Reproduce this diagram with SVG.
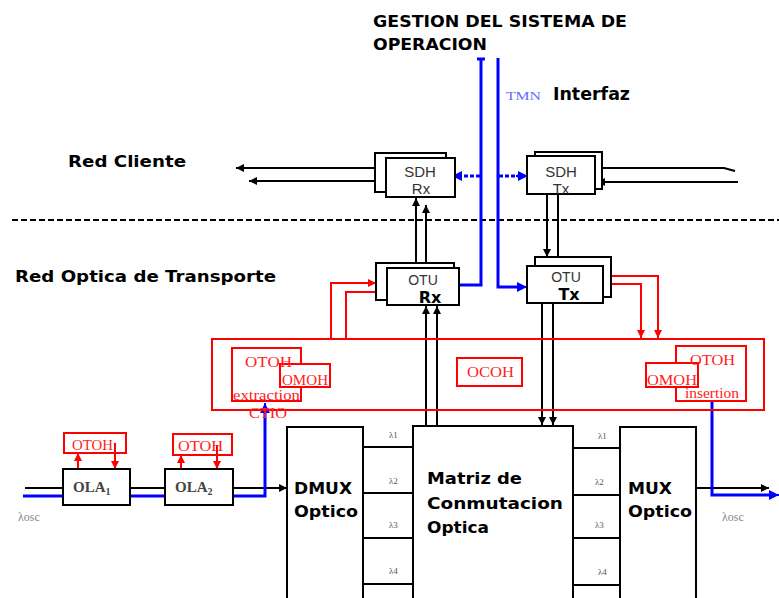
<svg xmlns="http://www.w3.org/2000/svg" width="779" height="598" viewBox="0 0 779 598">
<defs>
<marker id="ak" viewBox="0 0 10 10" refX="10" refY="5" markerWidth="9" markerHeight="8" markerUnits="userSpaceOnUse" orient="auto"><path d="M0,0 L10,5 L0,10 z" fill="#000"/></marker>
<marker id="ab" viewBox="0 0 10 10" refX="10" refY="5" markerWidth="11" markerHeight="10" markerUnits="userSpaceOnUse" orient="auto"><path d="M0,0 L10,5 L0,10 z" fill="#0000ff"/></marker>
<marker id="ar" viewBox="0 0 10 10" refX="10" refY="5" markerWidth="8" markerHeight="8" markerUnits="userSpaceOnUse" orient="auto"><path d="M0,0 L10,5 L0,10 z" fill="#ff0000"/></marker>
<style>
.bx{fill:#fff;stroke:#000;stroke-width:2}
.rb{fill:none;stroke:#ff0000;stroke-width:2}
.rbf{fill:#fff;stroke:#ff0000;stroke-width:2}
.k{fill:none;stroke:#000;stroke-width:2}
.b{fill:none;stroke:#0000ff;stroke-width:3}
.bd{fill:none;stroke:#0000ff;stroke-width:3;stroke-dasharray:4,2}
.r{fill:none;stroke:#ff0000;stroke-width:2}
.h{font-family:"DejaVu Sans","Liberation Sans",sans-serif;font-weight:bold;fill:#000}
.g{font-family:"Liberation Sans",Arial,sans-serif;fill:#333}
.s{font-family:"Liberation Serif","Times New Roman",serif}
.rt{font-family:"Liberation Serif","Times New Roman",serif;fill:#ff2020;font-size:14px}
.lam{font-family:"Liberation Serif","Times New Roman",serif;fill:#555;font-size:9px}
</style>
</defs>
<rect width="779" height="598" fill="#fff"/>

<g id="labels">
<text class="h" x="373" y="27" font-size="15" textLength="254" lengthAdjust="spacingAndGlyphs">GESTION DEL SISTEMA DE</text>
<text class="h" x="373" y="50" font-size="15" textLength="114" lengthAdjust="spacingAndGlyphs">OPERACION</text>
<text class="s" x="506" y="100" font-size="12" fill="#6a6aff" textLength="35" lengthAdjust="spacingAndGlyphs">TMN</text>
<text class="h" x="553" y="100" font-size="17" textLength="77" lengthAdjust="spacingAndGlyphs">Interfaz</text>
<text class="h" x="68" y="167" font-size="15" textLength="118" lengthAdjust="spacingAndGlyphs">Red Cliente</text>
<text class="h" x="15" y="282" font-size="15" textLength="261" lengthAdjust="spacingAndGlyphs">Red Optica de Transporte</text>
<text class="s" x="18" y="521" font-size="12" fill="#888">λosc</text>
<text class="s" x="722" y="521" font-size="12" fill="#888">λosc</text>
</g>

<line x1="12" y1="220" x2="779" y2="220" stroke="#000" stroke-width="2" stroke-dasharray="6,3"/>

<g id="connectors">
<line x1="477" y1="59" x2="485" y2="59" stroke="#0000ff" stroke-width="3"/>
<polyline class="b" points="481,58 481,285 459,285"/>
<polyline class="b" points="498,58 498,287 518,287"/>
<line x1="512" y1="287" x2="527" y2="287" stroke="#0000ff" stroke-width="2" marker-end="url(#ab)"/>
<line class="bd" x1="480" y1="176" x2="460" y2="176"/>
<line x1="462" y1="176" x2="452" y2="176" stroke="#0000ff" stroke-width="2" marker-end="url(#ab)"/>
<line class="bd" x1="499" y1="176" x2="518" y2="176"/>
<line x1="516" y1="176" x2="528" y2="176" stroke="#0000ff" stroke-width="2" marker-end="url(#ab)"/>
<line class="k" x1="375" y1="168" x2="236" y2="168" marker-end="url(#ak)"/>
<line class="k" x1="386" y1="181" x2="249" y2="181" marker-end="url(#ak)"/>
<polyline class="k" points="602,168 724,168 735,171"/>
<line class="k" x1="738" y1="182" x2="597" y2="182" marker-end="url(#ak)"/>
<line class="k" x1="416" y1="263" x2="416" y2="198" marker-end="url(#ak)"/>
<line class="k" x1="426" y1="268" x2="426" y2="205" marker-end="url(#ak)"/>
<line class="k" x1="547" y1="194" x2="547" y2="257" marker-end="url(#ak)"/>
<line class="k" x1="558" y1="194" x2="558" y2="266" marker-end="url(#ak)"/>
<line class="k" x1="426" y1="426" x2="426" y2="306" marker-end="url(#ak)"/>
<line class="k" x1="437" y1="426" x2="437" y2="306" marker-end="url(#ak)"/>
<line class="k" x1="542" y1="303" x2="542" y2="425" marker-end="url(#ak)"/>
<line class="k" x1="553" y1="303" x2="553" y2="425" marker-end="url(#ak)"/>
<polyline class="r" points="331,340 331,283 376,283" marker-end="url(#ar)"/>
<polyline class="r" points="346,340 346,292 387,292" marker-end="url(#ar)"/>
<polyline class="r" points="611,276 658,276 658,338" marker-end="url(#ar)"/>
<polyline class="r" points="603,284 641,284 641,338" marker-end="url(#ar)"/>
<line class="k" x1="25" y1="488" x2="63" y2="488"/>
<line class="k" x1="130" y1="488" x2="165" y2="488"/>
<line class="k" x1="233" y1="488" x2="287" y2="488" marker-end="url(#ak)"/>
<polyline class="b" points="23,496 265,496 265,410"/>
<line x1="265" y1="412" x2="265" y2="403" stroke="#0000ff" stroke-width="2" marker-end="url(#ab)"/>
<line class="k" x1="696" y1="488" x2="769" y2="488" marker-end="url(#ak)"/>
<polyline class="b" points="712,401 712,495 772,495"/>
<line x1="768" y1="495" x2="779" y2="495" stroke="#0000ff" stroke-width="2" marker-end="url(#ab)"/>
<line class="r" x1="78" y1="469" x2="78" y2="453" marker-end="url(#ar)"/>
<line class="r" x1="115" y1="443" x2="115" y2="469" marker-end="url(#ar)"/>
<line class="r" x1="181" y1="469" x2="181" y2="455" marker-end="url(#ar)"/>
<line class="r" x1="217" y1="445" x2="217" y2="469" marker-end="url(#ar)"/>
<line class="k" x1="363" y1="447" x2="413" y2="447"/>
<line class="k" x1="363" y1="493" x2="413" y2="493"/>
<line class="k" x1="363" y1="538" x2="413" y2="538"/>
<line class="k" x1="363" y1="584" x2="413" y2="584"/>
<line class="k" x1="573" y1="448" x2="620" y2="448"/>
<line class="k" x1="573" y1="495" x2="620" y2="495"/>
<line class="k" x1="573" y1="538" x2="620" y2="538"/>
<line class="k" x1="573" y1="585" x2="620" y2="585"/>
<text class="lam" x="389" y="438">λ1</text>
<text class="lam" x="389" y="484">λ2</text>
<text class="lam" x="389" y="528">λ3</text>
<text class="lam" x="389" y="574">λ4</text>
<text class="lam" x="598" y="439">λ1</text>
<text class="lam" x="595" y="485">λ2</text>
<text class="lam" x="595" y="528">λ3</text>
<text class="lam" x="598" y="575">λ4</text>
</g>

<g id="sdh-rx">
<rect class="bx" x="375" y="153" width="71" height="39"/>
<rect class="bx" x="386" y="158" width="69" height="39"/>
<text class="g" x="420" y="177" font-size="15" text-anchor="middle">SDH</text>
<text class="g" x="421" y="194" font-size="15" text-anchor="middle">Rx</text>
</g>
<g id="sdh-tx">
<rect class="bx" x="535" y="152" width="67" height="37"/>
<rect class="bx" x="527" y="156" width="68" height="38"/>
<text class="g" x="561" y="177" font-size="15" text-anchor="middle">SDH</text>
<text class="g" x="561" y="194" font-size="15" text-anchor="middle">Tx</text>
</g>
<g id="otu-rx">
<rect class="bx" x="376" y="263" width="78" height="37"/>
<rect class="bx" x="387" y="268" width="72" height="37"/>
<text class="g" x="423" y="285" font-size="14" fill="#555" text-anchor="middle">OTU</text>
<text class="h" x="430" y="303" font-size="16" text-anchor="middle">Rx</text>
</g>
<g id="otu-tx">
<rect class="bx" x="535" y="257" width="76" height="40"/>
<rect class="bx" x="527" y="266" width="76" height="37"/>
<text class="g" x="566" y="282" font-size="14" fill="#555" text-anchor="middle">OTU</text>
<text class="h" x="569" y="300" font-size="16" text-anchor="middle">Tx</text>
</g>

<g id="overhead">
<rect class="rb" x="212" y="339" width="552" height="71"/>
<rect class="rb" x="232" y="348" width="69" height="53"/>
<rect class="rbf" x="280" y="364" width="50" height="23"/>
<text class="rt" x="245" y="367" textLength="47" lengthAdjust="spacingAndGlyphs">OTOH</text>
<text class="rt" x="282" y="385" textLength="46" lengthAdjust="spacingAndGlyphs">OMOH</text>
<text class="rt" x="233" y="400" font-size="11" textLength="67" lengthAdjust="spacingAndGlyphs">extraction</text>
<text class="rt" x="249" y="418" textLength="38" lengthAdjust="spacingAndGlyphs">CTIO</text>
<rect class="rb" x="457" y="358" width="65" height="28"/>
<text class="rt" x="467" y="377" textLength="47" lengthAdjust="spacingAndGlyphs">OCOH</text>
<rect class="rb" x="676" y="346" width="70" height="55"/>
<rect class="rbf" x="646" y="363" width="52" height="24"/>
<text class="rt" x="690" y="365" textLength="45" lengthAdjust="spacingAndGlyphs">OTOH</text>
<text class="rt" x="647" y="385" textLength="50" lengthAdjust="spacingAndGlyphs">OMOH</text>
<text class="rt" x="685" y="398" font-size="11" textLength="54" lengthAdjust="spacingAndGlyphs">insertion</text>
</g>

<g id="ola1">
<rect class="rb" x="64" y="433" width="62" height="20"/>
<text class="rt" x="72" y="450" font-size="13" textLength="41" lengthAdjust="spacingAndGlyphs">OTOH</text>
<rect class="bx" x="63" y="469" width="67" height="36"/>
<text class="s" x="73" y="492" font-size="15" font-weight="bold" fill="#444">OLA<tspan font-size="10" dy="3">1</tspan></text>
</g>
<g id="ola2">
<rect class="rb" x="173" y="434" width="59" height="21"/>
<text class="rt" x="178" y="451" font-size="13" textLength="45" lengthAdjust="spacingAndGlyphs">OTOH</text>
<rect class="bx" x="165" y="469" width="68" height="36"/>
<text class="s" x="175" y="492" font-size="15" font-weight="bold" fill="#444">OLA<tspan font-size="10" dy="3">2</tspan></text>
</g>

<g id="dmux">
<rect class="bx" x="287" y="427" width="76" height="180"/>
<text class="h" x="294" y="494" font-size="15" textLength="58" lengthAdjust="spacingAndGlyphs">DMUX</text>
<text class="h" x="294" y="517" font-size="15" textLength="64" lengthAdjust="spacingAndGlyphs">Optico</text>
</g>
<g id="matriz">
<rect class="bx" x="413" y="426" width="160" height="180"/>
<text class="h" x="427" y="484" font-size="15" textLength="95" lengthAdjust="spacingAndGlyphs">Matriz de</text>
<text class="h" x="427" y="509" font-size="15" textLength="136" lengthAdjust="spacingAndGlyphs">Conmutacion</text>
<text class="h" x="427" y="533" font-size="15" textLength="62" lengthAdjust="spacingAndGlyphs">Optica</text>
</g>
<g id="mux">
<rect class="bx" x="620" y="427" width="76" height="180"/>
<text class="h" x="628" y="494" font-size="15" textLength="44" lengthAdjust="spacingAndGlyphs">MUX</text>
<text class="h" x="628" y="517" font-size="15" textLength="64" lengthAdjust="spacingAndGlyphs">Optico</text>
</g>
</svg>
